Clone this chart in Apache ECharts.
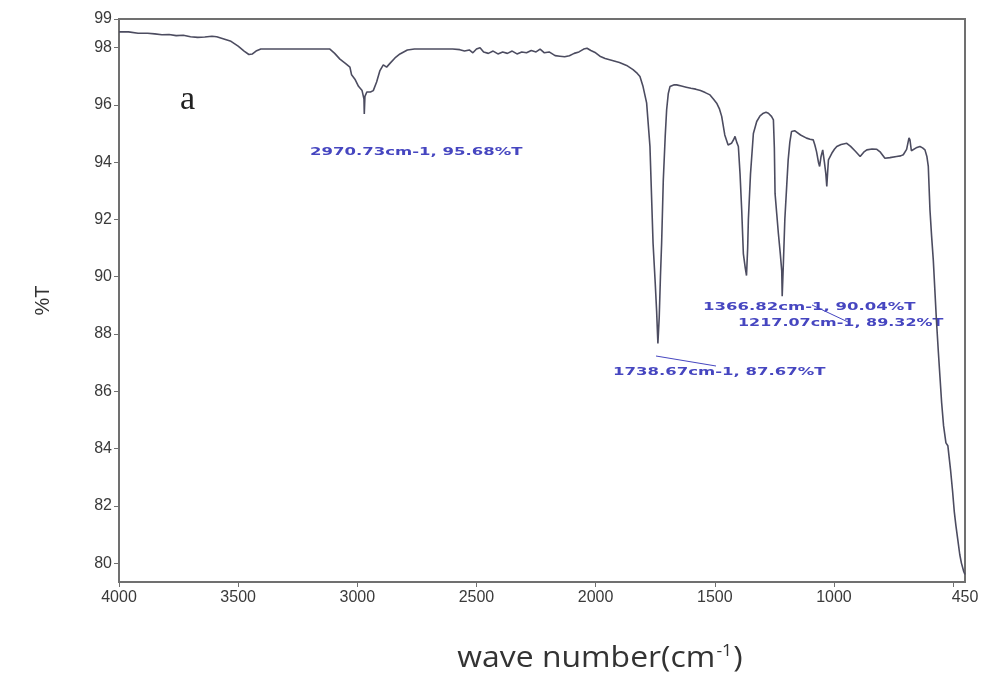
<!DOCTYPE html>
<html>
<head>
<meta charset="utf-8">
<script src="https://cdn.jsdelivr.net/npm/echarts@6/dist/echarts.min.js"></script>
<style>html,body{margin:0;padding:0;background:#fff}#c{width:989px;height:679px}</style>
</head>
<body>
<div id="c"></div>
<script>
// wavenumber (cm-1)
const waveNumbers = [4000,3960,3920,3880,3850,3820,3790,3760,3730,3700,3670,3640,3610,3590,3560,3530,3500,3475,3455,3440,3425,3405,3350,3300,3250,3200,3150,3115,3095,3073,3050,3031,3024,3010,2995,2980,2975,2972,2970.73,2968,2960,2945,2933,2919,2905,2891,2877,2863,2842,2821,2790,2760,2700,2650,2600,2570,2550,2530,2515,2500,2485,2470,2450,2430,2410,2390,2370,2350,2330,2310,2290,2270,2250,2233,2215,2195,2170,2150,2130,2110,2090,2070,2050,2036,2020,2000,1982,1960,1930,1900,1870,1843,1825,1814,1801,1786,1772,1759,1750,1744,1738.67,1733,1728,1723,1716,1708,1702,1695,1688,1670,1660,1640,1620,1600,1580,1560,1540,1520,1505,1492,1480,1471,1458,1444,1430,1420,1415,1408,1401,1394,1387,1380,1372,1366.82,1362,1359,1350,1338,1324,1310,1296,1285,1275,1262,1254,1250,1247,1240,1233,1225,1219,1217.07,1212,1206,1198,1192,1185,1178,1165,1157,1140,1115,1100,1087,1080,1073,1065,1060,1054,1047,1040,1034,1030,1026,1023,1009,998,988,970,946,930,910,890,875,862,840,820,805,786,765,737,720,709,695,685,681,675,667,655,639,628,618,610,604,597,590,583,570,562,555,548,540,530,522,518,510,502,495,488,480,472,465,455,450];
// transmittance (%T)
const transmittance = [98.55,98.55,98.5,98.5,98.48,98.45,98.46,98.42,98.43,98.38,98.36,98.37,98.4,98.38,98.3,98.22,98.05,97.88,97.76,97.78,97.88,97.95,97.95,97.95,97.95,97.95,97.95,97.95,97.8,97.6,97.45,97.32,97.05,96.9,96.65,96.5,96.45,96.2,95.68,96.3,96.45,96.45,96.5,96.8,97.2,97.4,97.32,97.45,97.64,97.78,97.92,97.95,97.95,97.95,97.95,97.93,97.88,97.92,97.82,97.95,98.0,97.85,97.8,97.88,97.78,97.85,97.8,97.88,97.78,97.85,97.82,97.9,97.85,97.95,97.82,97.85,97.72,97.7,97.68,97.72,97.8,97.85,97.95,97.98,97.9,97.82,97.7,97.62,97.55,97.48,97.38,97.23,97.1,96.99,96.64,96.07,94.55,91.18,89.8,88.8,87.67,88.6,90.0,91.18,93.38,94.9,95.83,96.4,96.64,96.7,96.7,96.66,96.62,96.58,96.55,96.5,96.43,96.35,96.2,96.06,95.85,95.6,94.95,94.6,94.66,94.8,94.9,94.7,94.55,93.6,92.33,90.8,90.3,90.04,91.0,92.0,93.6,95.0,95.42,95.62,95.71,95.74,95.71,95.6,95.48,94.5,92.9,92.2,91.5,90.8,90.2,89.32,90.5,92.0,93.2,94.08,94.7,95.07,95.1,95.07,94.95,94.84,94.8,94.78,94.6,94.37,94.0,93.85,94.2,94.43,94.0,93.6,93.15,93.7,94.08,94.31,94.45,94.55,94.62,94.66,94.55,94.38,94.2,94.35,94.43,94.46,94.45,94.35,94.14,94.16,94.2,94.22,94.26,94.45,94.85,94.78,94.4,94.43,94.5,94.55,94.5,94.43,94.2,93.85,92.33,91.4,90.58,88.5,87.4,86.5,85.6,84.8,84.2,84.1,84.1,83.2,82.5,81.8,81.3,80.8,80.3,80.0,79.7,79.6];

const xLabelValues = [4000,3500,3000,2500,2000,1500,1000,450];
const xTickValues = [4000,3500,3000,2500,2000,1500,1000,500];
const yLabelValues = [80,82,84,86,88,90,92,94,96,98,99];

const peakLabels = ['2970.73cm-1, 95.68%T','1366.82cm-1, 90.04%T','1217.07cm-1, 89.32%T','1738.67cm-1, 87.67%T'];
const xAxisTitle = 'wave number(cm{sup|-1})';
const yAxisTitle = '%T';
const panelLetter = 'a';

const chart = echarts.init(document.getElementById('c'), null, {renderer:'canvas'});
const data = waveNumbers.map((w,i)=>[w, transmittance[i]]);
const axisColor = '#707070';
const labelFont = {color:'#3a3a3a', fontSize:16, fontFamily:'Liberation Sans, Arial, sans-serif', formatter:(v)=>String(v)};
const annoStyle = (t)=>({text:t, fill:'#4646c0', font:'bold 11px "DejaVu Sans", sans-serif', textVerticalAlign:'middle', textAlign:'left'});

chart.setOption({
  animation:false,
  backgroundColor:'#fff',
  grid:{left:119, right:24, top:19, bottom:97, show:true, borderColor:axisColor, borderWidth:2, containLabel:false},
  xAxis:{
    type:'value', inverse:true, min:450, max:4000,
    axisLine:{show:true, onZero:false, lineStyle:{color:axisColor, width:2}},
    axisTick:{show:true, length:5, customValues:xTickValues, lineStyle:{color:axisColor}},
    axisLabel:{customValues:xLabelValues, margin:8, ...labelFont},
    splitLine:{show:false}
  },
  yAxis:{
    type:'value', min:79.34, max:99,
    axisLine:{show:true, onZero:false, lineStyle:{color:axisColor, width:2}},
    axisTick:{show:true, length:5, customValues:yLabelValues, lineStyle:{color:axisColor}},
    axisLabel:{customValues:yLabelValues, margin:7, ...labelFont},
    splitLine:{show:false},
    name:yAxisTitle, nameLocation:'middle', nameGap:66, nameRotate:90,
    nameTextStyle:{color:'#333', fontSize:20, fontFamily:'Liberation Sans, Arial, sans-serif'}
  },
  series:[{
    type:'line', data:data, showSymbol:false, symbol:'none',
    lineStyle:{color:'#4c4c60', width:1.6}
  }],
  graphic:[
    {type:'text', x:600, y:659, scaleX:1.1, style:{text:xAxisTitle, fill:'#333', font:'29px "Open Sans", sans-serif', textAlign:'center', textVerticalAlign:'middle',
      rich:{sup:{fontSize:16, verticalAlign:'top', padding:[0,1,15,1], fill:'#333', fontFamily:'Open Sans, sans-serif'}}}},
    {type:'text', x:180, y:100, style:{text:panelLetter, fill:'#222', font:'34px "Liberation Serif", "DejaVu Serif", serif', textVerticalAlign:'middle'}},
    {type:'text', x:310, y:152, scaleX:1.5, style:annoStyle(peakLabels[0])},
    {type:'text', x:703, y:307, scaleX:1.5, style:annoStyle(peakLabels[1])},
    {type:'text', x:738, y:323, scaleX:1.45, style:annoStyle(peakLabels[2])},
    {type:'text', x:613, y:372, scaleX:1.5, style:annoStyle(peakLabels[3])},
    {type:'line', shape:{x1:656, y1:356, x2:716, y2:366}, style:{stroke:'#4646c0', lineWidth:1}},
    {type:'line', shape:{x1:812, y1:305, x2:848, y2:322}, style:{stroke:'#4646c0', lineWidth:1}}
  ]
});
</script>
</body>
</html>
